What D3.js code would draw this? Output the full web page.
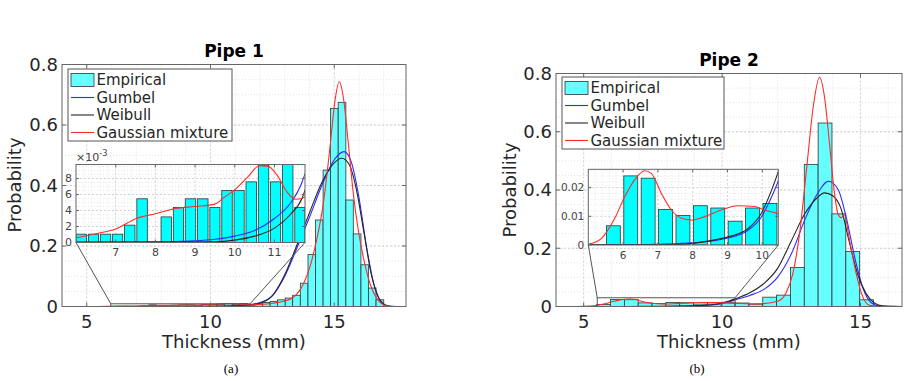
<!DOCTYPE html>
<html>
<head>
<meta charset="utf-8">
<script src="https://cdn.jsdelivr.net/npm/d3@7"></script>
<style>
    body { margin: 0; background: #fff; }
    svg { display: block; font-family: "DejaVu Sans", sans-serif; }
</style>
</head>
<body>
<svg id="fig" width="909" height="381"></svg>
<script>
// ---------- data ----------
const legendLabels = ["Empirical", "Gumbel", "Weibull", "Gaussian mixture"];
const mainXTicks = [5, 10, 15];
const mainYTicks = [0, 0.2, 0.4, 0.6, 0.8];
const mainYLabels = ["0", "0.2", "0.4", "0.6", "0.8"];

// Pipe 1
const p1Edges = [5.98, 6.29, 6.59, 6.90, 7.20, 7.51, 7.82, 8.12, 8.43, 8.73, 9.04, 9.35,
    9.65, 9.96, 10.26, 10.57, 10.88, 11.18, 11.49, 11.79, 12.10, 12.41, 12.71, 13.02,
    13.32, 13.63, 13.94, 14.24, 14.55, 14.85, 15.16, 15.47, 15.77, 16.08, 16.38, 16.69, 17.00];
const p1Prob = [0.00104, 0.00104, 0.00104, 0.00104, 0.00217, 0.00546, 0, 0.0032, 0.00437,
    0.00546, 0.00546, 0.00437, 0.0065, 0.0065, 0.00758, 0.00967, 0.00758, 0.0099, 0.00437,
    0.0087, 0.013, 0.017, 0.022, 0.028, 0.037, 0.077, 0.172, 0.286, 0.451, 0.655, 0.675,
    0.352, 0.24, 0.138, 0.061, 0.022];
const p1Gumbel = [[4, 0], [8.3, 0.0001], [9.0, 0.0002], [9.5, 0.0004], [10.0, 0.0008],
    [10.5, 0.0015], [11.0, 0.003], [11.4, 0.0049], [11.7, 0.0076], [12.0, 0.013],
    [12.5, 0.035], [13.0, 0.1], [13.5, 0.195], [14.0, 0.295], [14.5, 0.4], [15.0, 0.485],
    [15.4, 0.512], [15.7, 0.475], [16.0, 0.36], [16.3, 0.2], [16.6, 0.075], [16.9, 0.015],
    [17.2, 0.001], [17.9, 0]];
const p1Weibull = [[4, 0], [9.5, 0.0001], [10.0, 0.0003], [10.5, 0.0008], [11.0, 0.0018],
    [11.4, 0.0035], [11.7, 0.0056], [12.0, 0.011], [12.5, 0.036], [13.0, 0.105],
    [13.5, 0.205], [14.0, 0.31], [14.5, 0.41], [15.0, 0.475], [15.3, 0.49], [15.6, 0.47],
    [15.9, 0.385], [16.2, 0.245], [16.5, 0.105], [16.8, 0.028], [17.1, 0.004], [17.4, 0],
    [17.9, 0]];
const p1Gaussian = [[4, 0], [5, 0.0001], [5.5, 0.0002], [6.01, 0.0006], [6.5, 0.0011],
    [7.0, 0.0017], [7.52, 0.003], [8.0, 0.0036], [8.51, 0.00425], [9.0, 0.0045],
    [9.5, 0.0048], [9.75, 0.0057], [10.0, 0.0066], [10.33, 0.0082], [10.62, 0.0096],
    [10.83, 0.00955], [11.07, 0.0084], [11.32, 0.0063], [11.53, 0.0054], [11.69, 0.0055],
    [12.0, 0.007], [12.5, 0.011], [13.0, 0.018], [13.3, 0.028], [13.62, 0.055],
    [14.02, 0.132], [14.29, 0.22], [14.56, 0.341], [14.83, 0.528], [15.03, 0.68],
    [15.2, 0.743], [15.37, 0.69], [15.57, 0.539], [15.77, 0.374], [15.97, 0.253],
    [16.17, 0.165], [16.44, 0.077], [16.71, 0.028], [16.98, 0.006], [17.25, 0.001], [17.9, 0]];
const p1InsetXTicks = [7, 8, 9, 10, 11];
const p1InsetYTicks = [0, 0.002, 0.004, 0.006, 0.008];
const p1InsetYLabels = ["0", "2", "4", "6", "8"];
const p1ZoomBox = [5.97, 11.6, 0.009];   // x from, x to, height

// Pipe 2
const p2Edges = [5.47, 5.97, 6.47, 6.97, 7.47, 7.97, 8.47, 8.97, 9.47, 9.97, 10.47,
    10.97, 11.47, 11.97, 12.47, 12.97, 13.47, 13.97, 14.47, 14.97, 15.47];
const p2Prob = [0.0067, 0.0241, 0.0233, 0.0124, 0.0103, 0.0137, 0.0129, 0.0083, 0.0129,
    0.0145, 0.012, 0.008, 0.032, 0.039, 0.134, 0.488, 0.63, 0.318, 0.189, 0.023];
const p2Gumbel = [[4, 0], [6.7, 0.0002], [7.7, 0.0006], [8.6, 0.0015], [9.1, 0.0027],
    [9.6, 0.0052], [9.97, 0.0097], [10.25, 0.0163], [10.5, 0.0235], [11.0, 0.038],
    [11.5, 0.058], [12.0, 0.1], [12.5, 0.18], [13.0, 0.3], [13.4, 0.38], [13.85, 0.43],
    [14.2, 0.4], [14.5, 0.3], [14.8, 0.165], [15.1, 0.06], [15.4, 0.012], [15.7, 0.001],
    [16.5, 0]];
const p2Weibull = [[4, 0], [7.5, 0.0002], [8.6, 0.0017], [9.1, 0.0031], [9.6, 0.0058],
    [9.97, 0.011], [10.25, 0.0186], [10.5, 0.027], [11.0, 0.047], [11.5, 0.078],
    [12.0, 0.13], [12.5, 0.225], [13.0, 0.32], [13.4, 0.37], [13.7, 0.39], [14.0, 0.38],
    [14.3, 0.335], [14.6, 0.22], [14.9, 0.11], [15.2, 0.045], [15.5, 0.012], [15.8, 0.002],
    [16.5, 0]];
const p2Gaussian = [[4, 0], [4.8, 0.0001], [5.01, 0.0003], [5.38, 0.0023], [5.76, 0.0093],
    [6.05, 0.0169], [6.33, 0.0227], [6.62, 0.0259], [6.81, 0.025], [7.1, 0.018],
    [7.39, 0.0122], [7.68, 0.0093], [7.96, 0.0087], [8.34, 0.0099], [8.82, 0.0122],
    [9.3, 0.0137], [9.78, 0.0134], [10.02, 0.0124], [10.5, 0.0108], [11.0, 0.009],
    [11.5, 0.01], [12.0, 0.018], [12.3, 0.045], [12.55, 0.11], [12.8, 0.25], [13.05, 0.47],
    [13.3, 0.69], [13.52, 0.787], [13.7, 0.72], [13.88, 0.56], [14.06, 0.39], [14.18, 0.32],
    [14.3, 0.305], [14.42, 0.315], [14.6, 0.23], [14.84, 0.115], [15.08, 0.034],
    [15.32, 0.004], [15.6, 0], [16.5, 0]];
const p2InsetXTicks = [6, 7, 8, 9, 10];
const p2InsetYTicks = [0, 0.01, 0.02];
const p2InsetYLabels = ["0", "0.01", "0.02"];
const p2ZoomBox = [5.49, 10.47, 0.03];

// ---------- layout ----------
const panels = [
    {
        id: "p1", title: "Pipe 1", titleY: 57, caption: "(a)", capX: 231,
        edges: p1Edges, prob: p1Prob,
        curves: [p1Gumbel, p1Weibull, p1Gaussian],
        xDomain: [4, 17.9], box: { x0: 62, x1: 406, y0: 64.5, y1: 306.5 },
        ylabX: 15, ylabY: 185,
        legend: { x: 68, y: 69, w: 164, h: 72 },
        zoom: p1ZoomBox,
        inset: {
            x0: 76, x1: 305, y0: 164.5, y1: 242.5,
            xDomain: [6.0, 11.77], yDomain: [0, 0.00975],
            xTicks: p1InsetXTicks, yTicks: p1InsetYTicks, yLabels: p1InsetYLabels,
            xMinor: 0.2, yMinor: 0.0005, barFrac: 0.85, fs: 11, xLabY: 256, exp: true,
        },
    },
    {
        id: "p2", title: "Pipe 2", titleY: 66, caption: "(b)", capX: 697,
        edges: p2Edges, prob: p2Prob,
        curves: [p2Gumbel, p2Weibull, p2Gaussian],
        xDomain: [4, 16.5], box: { x0: 556, x1: 902, y0: 73.5, y1: 306.5 },
        ylabX: 510, ylabY: 190,
        legend: { x: 562, y: 77, w: 162, h: 72 },
        zoom: p2ZoomBox,
        inset: {
            x0: 588.3, x1: 778.3, y0: 169.3, y1: 245,
            xDomain: [5.0, 10.46], yDomain: [0, 0.0264],
            xTicks: p2InsetXTicks, yTicks: p2InsetYTicks, yLabels: p2InsetYLabels,
            xMinor: 0.2, yMinor: 0.002, barFrac: 0.8, fs: 10.5, xLabY: 259, exp: false,
        },
    },
];

const curveColors = ["#2b2bff", "#262626", "#ff2a2a"];
const mainFill = "#66ffff", insetFill = "#00ffff", barEdge = "#333";
const axisColor = "#666", textColor = "#262626";

const svg = d3.select("#fig");
svg.append("rect").attr("width", 909).attr("height", 381).attr("fill", "#fff");

function drawGrid(g, x, y, xs, ys, color, dash) {
    g.selectAll(null).data(xs).enter().append("line")
        .attr("x1", d => x(d)).attr("x2", d => x(d))
        .attr("y1", y.range()[0]).attr("y2", y.range()[1])
        .attr("stroke", color).attr("stroke-width", 0.8).attr("stroke-dasharray", dash);
    g.selectAll(null).data(ys).enter().append("line")
        .attr("y1", d => y(d)).attr("y2", d => y(d))
        .attr("x1", x.range()[0]).attr("x2", x.range()[1])
        .attr("stroke", color).attr("stroke-width", 0.8).attr("stroke-dasharray", dash);
}

function drawBoxTicks(g, x, y, xt, yt, len) {
    const [x0, x1] = x.range(), [y1, y0] = y.range();
    g.append("rect").attr("x", x0).attr("y", y0).attr("width", x1 - x0).attr("height", y1 - y0)
        .attr("fill", "none").attr("stroke", axisColor).attr("stroke-width", 1);
    xt.forEach(t => {
        g.append("line").attr("x1", x(t)).attr("x2", x(t)).attr("y1", y1).attr("y2", y1 - len)
            .attr("stroke", axisColor);
        g.append("line").attr("x1", x(t)).attr("x2", x(t)).attr("y1", y0).attr("y2", y0 + len)
            .attr("stroke", axisColor);
    });
    yt.forEach(t => {
        g.append("line").attr("y1", y(t)).attr("y2", y(t)).attr("x1", x0).attr("x2", x0 + len)
            .attr("stroke", axisColor);
        g.append("line").attr("y1", y(t)).attr("y2", y(t)).attr("x1", x1).attr("x2", x1 - len)
            .attr("stroke", axisColor);
    });
}

panels.forEach(p => {
    const b = p.box;
    const g = svg.append("g");
    const x = d3.scaleLinear().domain(p.xDomain).range([b.x0, b.x1]);
    const y = d3.scaleLinear().domain([0, 0.8]).range([b.y1, b.y0]);

    g.append("clipPath").attr("id", p.id + "_clip").append("rect")
        .attr("x", b.x0).attr("y", b.y0).attr("width", b.x1 - b.x0).attr("height", b.y1 - b.y0);

    // grid: minor then major
    drawGrid(g, x, y, d3.range(Math.ceil(p.xDomain[0]), p.xDomain[1], 1).filter(v => v % 5 !== 0),
        d3.range(0.05, 0.8, 0.05), "#dcdcdc", "1,2");
    drawGrid(g, x, y, mainXTicks, mainYTicks.slice(1, -1), "#c4c4c4", "2,2");

    const plot = g.append("g").attr("clip-path", `url(#${p.id}_clip)`);

    // histogram
    const bins = p.prob.map((v, i) => ({ a: p.edges[i], b: p.edges[i + 1], v: v })).filter(d => d.v > 0);
    plot.selectAll(null).data(bins).enter().append("rect")
        .attr("x", d => x(d.a)).attr("width", d => x(d.b) - x(d.a))
        .attr("y", d => y(d.v)).attr("height", d => y(0) - y(d.v))
        .attr("fill", mainFill).attr("stroke", barEdge).attr("stroke-width", 0.8);

    // fitted pdfs
    const line = d3.line().x(d => x(d[0])).y(d => y(d[1])).curve(d3.curveMonotoneX);
    p.curves.forEach((c, i) => {
        plot.append("path").attr("d", line(c)).attr("fill", "none")
            .attr("stroke", curveColors[i]).attr("stroke-width", 1.1);
    });

    // zoom marker + connectors
    const ins = p.inset, z = p.zoom;
    g.append("rect").attr("x", x(z[0])).attr("y", y(z[2]))
        .attr("width", x(z[1]) - x(z[0])).attr("height", y(0) - y(z[2]))
        .attr("fill", "none").attr("stroke", "#555").attr("stroke-width", 1);
    g.append("line").attr("x1", ins.x0).attr("y1", ins.y1).attr("x2", x(z[0])).attr("y2", y(z[2]))
        .attr("stroke", "#555").attr("stroke-width", 1);
    g.append("line").attr("x1", ins.x1).attr("y1", ins.y1).attr("x2", x(z[1])).attr("y2", y(z[2]))
        .attr("stroke", "#555").attr("stroke-width", 1);

    drawBoxTicks(g, x, y, mainXTicks, mainYTicks, 4);

    // axis labels
    g.selectAll(null).data(mainXTicks).enter().append("text")
        .attr("x", d => x(d)).attr("y", 328).attr("text-anchor", "middle")
        .attr("font-size", 18).attr("fill", textColor).text(d => d);
    g.selectAll(null).data(mainYTicks).enter().append("text")
        .attr("x", b.x0 - 4).attr("y", d => y(d)).attr("dy", "0.35em").attr("text-anchor", "end")
        .attr("font-size", 18).attr("fill", textColor).text((d, i) => mainYLabels[i]);
    g.append("text").attr("x", (b.x0 + b.x1) / 2).attr("y", 348).attr("text-anchor", "middle")
        .attr("font-size", 18).attr("fill", textColor).text("Thickness (mm)");
    g.append("text").attr("transform", `translate(${p.ylabX},${p.ylabY}) rotate(-90)`)
        .attr("dy", "0.35em").attr("text-anchor", "middle")
        .attr("font-size", 18).attr("fill", textColor).text("Probability");
    g.append("text").attr("x", (b.x0 + b.x1) / 2).attr("y", p.titleY).attr("text-anchor", "middle")
        .attr("font-size", 17).attr("font-weight", "bold").attr("fill", "#000").text(p.title);
    svg.append("text").attr("x", p.capX).attr("y", 373).attr("text-anchor", "middle")
        .attr("font-family", "'Liberation Serif', serif").attr("font-size", 13)
        .attr("fill", "#000").text(p.caption);

    // legend
    const L = p.legend;
    const lg = g.append("g");
    lg.append("rect").attr("x", L.x).attr("y", L.y).attr("width", L.w).attr("height", L.h)
        .attr("fill", "#fff").attr("stroke", "#555").attr("stroke-width", 1);
    legendLabels.forEach((lab, i) => {
        const ry = L.y + 11 + i * 17.5;
        if (i === 0) {
            lg.append("rect").attr("x", L.x + 3).attr("y", ry - 6.5).attr("width", 23).attr("height", 13)
                .attr("fill", mainFill).attr("stroke", barEdge).attr("stroke-width", 0.8);
        } else {
            lg.append("line").attr("x1", L.x + 3).attr("x2", L.x + 26).attr("y1", ry).attr("y2", ry)
                .attr("stroke", curveColors[i - 1]).attr("stroke-width", 1.1);
        }
        lg.append("text").attr("x", L.x + 28.5).attr("y", ry).attr("dy", "0.35em")
            .attr("font-size", 15).attr("fill", textColor).text(lab);
    });

    // inset
    const ix = d3.scaleLinear().domain(ins.xDomain).range([ins.x0, ins.x1]);
    const iy = d3.scaleLinear().domain(ins.yDomain).range([ins.y1, ins.y0]);
    const ig = g.append("g");
    ig.append("rect").attr("x", ins.x0).attr("y", ins.y0)
        .attr("width", ins.x1 - ins.x0).attr("height", ins.y1 - ins.y0).attr("fill", "#fff");
    ig.append("clipPath").attr("id", p.id + "_iclip").append("rect")
        .attr("x", ins.x0).attr("y", ins.y0).attr("width", ins.x1 - ins.x0).attr("height", ins.y1 - ins.y0);

    const xMin = d3.range(Math.ceil(ins.xDomain[0] / ins.xMinor) * ins.xMinor, ins.xDomain[1], ins.xMinor)
        .filter(v => Math.abs(v - Math.round(v)) > 1e-6);
    const yMin = d3.range(ins.yMinor, ins.yDomain[1], ins.yMinor)
        .filter(v => !ins.yTicks.some(t => Math.abs(t - v) < 1e-9));
    drawGrid(ig, ix, iy, xMin, yMin, "#e0e0e0", "1,2");
    drawGrid(ig, ix, iy, ins.xTicks, ins.yTicks.slice(1), "#c8c8c8", "2,2");

    const iplot = ig.append("g").attr("clip-path", `url(#${p.id}_iclip)`);
    iplot.selectAll(null).data(bins).enter().append("rect")
        .attr("x", d => ix((d.a + d.b) / 2 - ins.barFrac * (d.b - d.a) / 2))
        .attr("width", d => ix(d.b) - ix(d.a) - (1 - ins.barFrac) * (ix(d.b) - ix(d.a)))
        .attr("y", d => iy(d.v)).attr("height", d => iy(0) - iy(d.v))
        .attr("fill", insetFill).attr("stroke", barEdge).attr("stroke-width", 0.8);
    const iline = d3.line().x(d => ix(d[0])).y(d => iy(d[1])).curve(d3.curveMonotoneX);
    p.curves.forEach((c, i) => {
        iplot.append("path").attr("d", iline(c)).attr("fill", "none")
            .attr("stroke", curveColors[i]).attr("stroke-width", 1.1);
    });

    drawBoxTicks(ig, ix, iy, ins.xTicks, ins.yTicks, 3);
    ig.selectAll(null).data(ins.xTicks).enter().append("text")
        .attr("x", d => ix(d)).attr("y", ins.xLabY).attr("text-anchor", "middle")
        .attr("font-size", ins.fs).attr("fill", "#444").text(d => d);
    ig.selectAll(null).data(ins.yTicks).enter().append("text")
        .attr("x", ins.x0 - 4).attr("y", d => iy(d)).attr("dy", "0.35em").attr("text-anchor", "end")
        .attr("font-size", ins.fs).attr("fill", "#444").text((d, i) => ins.yLabels[i]);
    if (ins.exp) {
        const t = ig.append("text").attr("x", ins.x0).attr("y", ins.y0 - 4)
            .attr("font-size", ins.fs).attr("fill", "#444");
        t.append("tspan").text("×10");
        t.append("tspan").attr("dy", -5).attr("font-size", ins.fs * 0.75).text("-3");
    }
});
</script>
</body>
</html>
